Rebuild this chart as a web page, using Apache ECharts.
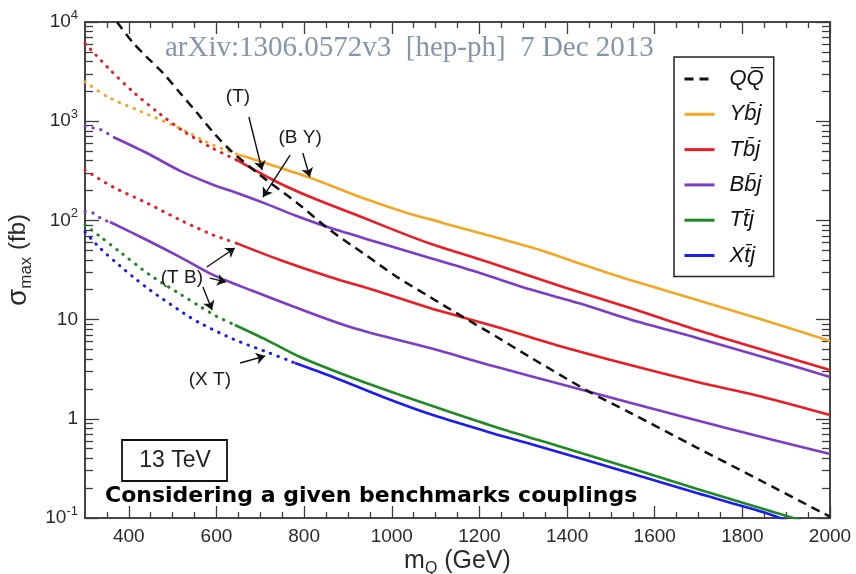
<!DOCTYPE html>
<html>
<head>
<meta charset="utf-8">
<script src="https://cdn.jsdelivr.net/npm/echarts@6/dist/echarts.min.js"></script>
<style>
  html, body { margin: 0; padding: 0; background: #fff; }
  #chart { width: 856px; height: 574px; }
</style>
</head>
<body>
<div id="chart"></div>
<script>
// Heavy-quark single production vs. pair production at 13 TeV.
// Mass in GeV, maximal cross section in fb. Points below each *SolidFrom
// mass are the extrapolated (dotted) part of the curve.

const qqMass  = [373, 410, 441, 478, 517, 556, 592, 631, 699, 784, 859, 934, 1012, 1087, 1163, 1240, 1315, 1452, 1544, 1697, 1847, 2000];
const qqSigma = [10000, 6140, 4437, 3060, 1925, 1210, 778, 513, 287, 150, 80, 46.9, 26.9, 16.9, 10.6, 6.68, 4.20, 1.86, 1.15, 0.51, 0.232, 0.103];

const ybjMass  = [300, 352, 425, 510, 592, 650, 665, 809, 934, 1042, 1087, 1133, 1201, 1338, 1446, 1544, 1697, 1848, 2000];
const ybjSigma = [2500, 1754, 1267, 874, 575, 460, 440, 274, 168, 116, 103, 90, 74.6, 50.3, 34.7, 25.1, 15.8, 9.9, 6.09];
const ybjSolidFrom = 650;

const tbjMass  = [300, 356, 412, 471, 528, 590, 646, 738, 820, 934, 1035, 1087, 1240, 1391, 1544, 1697, 1847, 2000];
const tbjSigma = [6100, 3335, 1937, 1183, 776, 537, 407, 244, 168, 107, 71, 58.5, 35.5, 21.3, 13.1, 7.85, 4.94, 3.10];
const tbjSolidFrom = 646;

const tbj2Mass  = [300, 364, 441, 517, 592, 624, 645, 745, 859, 973, 1087, 1240, 1391, 1544, 1697, 1847, 2000];
const tbj2Sigma = [322, 217, 150, 101, 71.3, 63.5, 59, 39.9, 26.9, 19.0, 13.1, 8.42, 5.29, 3.48, 2.35, 1.66, 1.09];
const tbj2SolidFrom = 645;

const bbjMass  = [300, 320, 338, 364, 441, 517, 592, 631, 706, 780, 859, 973, 1087, 1201, 1315, 1430, 1544, 1697, 1847, 2000];
const bbjSigma = [895, 853, 815, 693, 478, 316, 229, 200, 151, 112, 84.1, 59.2, 41.8, 29.5, 20.2, 14.5, 10.0, 6.53, 4.20, 2.64];
const bbjSolidFrom = 364;

const bbj2Mass  = [300, 318, 339, 357, 441, 517, 592, 677, 905, 1087, 1240, 1391, 1544, 1772, 2000];
const bbj2Sigma = [124, 119, 103, 96.4, 63.5, 42.7, 28.2, 19.9, 8.42, 5.18, 3.32, 2.2, 1.45, 0.789, 0.442];
const bbj2SolidFrom = 357;

const ttjMass  = [300, 334, 380, 448, 517, 562, 600, 642, 715, 791, 905, 1019, 1133, 1247, 1391, 1544, 1697, 1848, 1916, 1950];
const ttjSigma = [90, 69, 48, 28.2, 18.1, 13.6, 10.8, 8.83, 6.22, 4.20, 2.64, 1.74, 1.17, 0.80, 0.514, 0.319, 0.196, 0.123, 0.1, 0.088];
const ttjSolidFrom = 642;

const xtjMass  = [300, 334, 380, 410, 448, 524, 562, 638, 715, 768, 779, 866, 980, 1094, 1247, 1315, 1543, 1696, 1847, 1886, 1920];
const xtjSigma = [76.4, 52.7, 34.7, 26.9, 19.9, 11.7, 9.25, 6.37, 4.71, 3.83, 3.65, 2.64, 1.66, 1.09, 0.68, 0.56, 0.284, 0.179, 0.115, 0.1, 0.088];
const xtjSolidFrom = 779;

// Legend labels
const nameQQ  = 'Q' + 'Q\u0305';
const nameYbj = 'Yb\u0304j';
const nameTbj = 'Tb\u0304j';
const nameBbj = 'Bb\u0304j';
const nameTtj = 'Tt\u0304j';
const nameXtj = 'Xt\u0304j';

// Axis ticks
const xTickLabels = [400, 600, 800, 1000, 1200, 1400, 1600, 1800, 2000];
const xMinorTicks = [];
for (let m = 350; m < 2000; m += 50) if (m % 200 !== 0) xMinorTicks.push(m);
const yMinorTicks = [];
[0.1, 1, 10, 100, 1000].forEach(d => { for (let k = 2; k <= 9; k++) yMinorTicks.push(+(k * d).toPrecision(3)); });

// Annotation arrows (tail -> head) and their captions, in data units
const arrowTail = [[674, 1102], [768, 456], [797, 478], [578, 33.9], [585, 26.2], [569, 21.3], [654, 3.65]];
const arrowHead = [[704, 322], [706, 172], [813, 274], [642, 52.7], [622, 23.9], [590, 12.5], [711, 4.30]];
const noteText  = ['(T)', '(B Y)', '(T B)', '(X T)'];
const notePos   = [[649, 1754], [791, 677], [521, 26.2], [585, 2.46]];

const COLORS = { qq: '#111111', ybj: '#f5a623', tbj: '#ec1c24', bbj: '#7d3cc8', ttj: '#1f8a24', xtj: '#1c1cf0' };
const AXIS = '#3c3c3c';
const SANS = '"Liberation Sans", Arial, sans-serif';

function pairs(mass, sigma, keep) {
  const out = [];
  mass.forEach((m, i) => { if (keep(m)) out.push([m, sigma[i]]); });
  return out;
}
function solid(name, color, mass, sigma, from) {
  return {
    type: 'line', name, symbol: 'none', smooth: 0.3, z: 3,
    data: pairs(mass, sigma, m => m >= from),
    lineStyle: { color, width: 2.6 }, itemStyle: { color }
  };
}
function dotted(name, color, mass, sigma, from) {
  return {
    type: 'line', name, symbol: 'none', smooth: 0.3, z: 2,
    data: pairs(mass, sigma, m => m <= from),
    lineStyle: { color, width: 3, type: [0.5, 7.5], cap: 'round' }, itemStyle: { color }
  };
}

const series = [
  {
    type: 'line', name: nameQQ, symbol: 'none', smooth: 0.3, z: 4,
    data: pairs(qqMass, qqSigma, () => true),
    lineStyle: { color: COLORS.qq, width: 2.5, type: [9, 6] }, itemStyle: { color: COLORS.qq },
    markLine: {
      silent: true, symbol: ['none', 'arrow'], symbolSize: 9, animation: false,
      lineStyle: { color: '#111', width: 1.4, type: 'solid' },
      label: { show: false },
      data: arrowTail.map((t, i) => [{ coord: t }, { coord: arrowHead[i] }])
    },
    markPoint: {
      silent: true, symbol: 'circle', symbolSize: 0, animation: false,
      label: { show: true, position: 'inside', color: '#1a1a1a', fontSize: 19, fontFamily: SANS, formatter: p => p.name },
      data: notePos.map((c, i) => ({ name: noteText[i], coord: c }))
    }
  },
  solid(nameYbj, COLORS.ybj, ybjMass, ybjSigma, ybjSolidFrom),
  solid(nameTbj, COLORS.tbj, tbjMass, tbjSigma, tbjSolidFrom),
  solid(nameTbj, COLORS.tbj, tbj2Mass, tbj2Sigma, tbj2SolidFrom),
  solid(nameBbj, COLORS.bbj, bbjMass, bbjSigma, bbjSolidFrom),
  solid(nameBbj, COLORS.bbj, bbj2Mass, bbj2Sigma, bbj2SolidFrom),
  solid(nameTtj, COLORS.ttj, ttjMass, ttjSigma, ttjSolidFrom),
  solid(nameXtj, COLORS.xtj, xtjMass, xtjSigma, xtjSolidFrom),
  dotted(nameYbj, COLORS.ybj, ybjMass, ybjSigma, ybjSolidFrom),
  dotted(nameTbj, COLORS.tbj, tbjMass, tbjSigma, tbjSolidFrom),
  dotted(nameTbj, COLORS.tbj, tbj2Mass, tbj2Sigma, tbj2SolidFrom),
  dotted(nameBbj, COLORS.bbj, bbjMass, bbjSigma, bbjSolidFrom),
  dotted(nameBbj, COLORS.bbj, bbj2Mass, bbj2Sigma, bbj2SolidFrom),
  dotted(nameTtj, COLORS.ttj, ttjMass, ttjSigma, ttjSolidFrom),
  dotted(nameXtj, COLORS.xtj, xtjMass, xtjSigma, xtjSolidFrom)
];

function xAxisDef(position, ticks, len, withLabels) {
  return {
    type: 'value', min: 300, max: 2000, position,
    axisLine: { show: withLabels !== null, onZero: false, lineStyle: { color: AXIS, width: 1.6 } },
    axisTick: { show: true, inside: true, length: len, customValues: ticks, lineStyle: { color: AXIS, width: 1.3 } },
    axisLabel: withLabels
      ? { show: true, customValues: ticks, color: '#2a2a2a', fontSize: 19, fontFamily: SANS, margin: 9, formatter: v => String(v) }
      : { show: false },
    splitLine: { show: false }
  };
}
function yAxisDef(position, ticks, len, withLabels) {
  const ax = {
    type: 'log', logBase: 10, min: 0.1, max: 10000, position,
    axisLine: { show: withLabels !== null, onZero: false, lineStyle: { color: AXIS, width: 1.6 } },
    axisTick: { show: true, inside: true, length: len, lineStyle: { color: AXIS, width: 1.3 } },
    axisLabel: { show: false },
    splitLine: { show: false },
    minorTick: { show: false }
  };
  if (ticks) ax.axisTick.customValues = ticks;
  if (withLabels) {
    ax.axisLabel = {
      show: true, color: '#2a2a2a', fontSize: 19, fontFamily: SANS, margin: 7,
      formatter: v => {
        const e = Math.round(Math.log10(v));
        if (e === 0) return '1';
        if (e === 1) return '10';
        return '10{sup|' + e + '}';
      },
      rich: { sup: { fontSize: 13, fontFamily: SANS, color: '#2a2a2a', padding: [0, 0, 13, 0] } }
    };
  }
  return ax;
}

const xMain = xAxisDef('bottom', xTickLabels, 12, true);
xMain.name = '{m|m}{q|Q}{g| (GeV)}';
xMain.nameLocation = 'middle';
xMain.nameGap = 27;
xMain.nameMoveOverlap = false;
xMain.nameTextStyle = {
  color: '#2a2a2a', fontFamily: SANS,
  rich: {
    m: { fontSize: 25, fontFamily: SANS, color: '#2a2a2a' },
    q: { fontSize: 16, fontFamily: SANS, color: '#2a2a2a', padding: [16, 0, 0, 0] },
    g: { fontSize: 25, fontFamily: SANS, color: '#2a2a2a' }
  }
};

const yMain = yAxisDef('left', null, 14, true);
yMain.name = '{s|\u03c3}{sub|max}{f| (fb)}';
yMain.nameLocation = 'middle';
yMain.nameRotate = 90;
yMain.nameGap = 46;
yMain.nameTextStyle = {
  color: '#2a2a2a', fontFamily: SANS, padding: [0, 0, 0, 20],
  rich: {
    s: { fontSize: 28, fontFamily: SANS, color: '#2a2a2a' },
    sub: { fontSize: 17, fontFamily: SANS, color: '#2a2a2a', padding: [16, 0, 0, 0] },
    f: { fontSize: 24, fontFamily: SANS, color: '#2a2a2a' }
  }
};

const option = {
  animation: false,
  backgroundColor: '#ffffff',
  grid: { left: 85, right: 26, top: 22, bottom: 56, containLabel: false, outerBoundsMode: 'none' },
  xAxis: [
    xMain,
    xAxisDef('bottom', xMinorTicks, 6, false),
    xAxisDef('top', xTickLabels, 12, false),
    xAxisDef('top', xMinorTicks, 6, false)
  ],
  yAxis: [
    yMain,
    yAxisDef('left', yMinorTicks, 8, false),
    yAxisDef('right', null, 14, false),
    yAxisDef('right', yMinorTicks, 8, false)
  ],
  legend: {
    show: true, orient: 'vertical', left: 674, top: 57,
    padding: [11, 10, 10, 9], itemGap: 13.3, itemWidth: 30, itemHeight: 22,
    borderColor: '#222', borderWidth: 1.5, backgroundColor: '#fff', borderRadius: 0,
    selectedMode: false,
    itemStyle: { opacity: 0 },
    lineStyle: { width: 3 },
    textStyle: { fontSize: 22, fontStyle: 'italic', fontFamily: SANS, color: '#111', padding: [0, 0, 0, 10] },
    data: [nameQQ, nameYbj, nameTbj, nameBbj, nameTtj, nameXtj]
  },
  graphic: [
    {
      type: 'text', x: 165, y: 48, silent: true,
      style: { text: 'arXiv:1306.0572v3  [hep-ph]  7 Dec 2013', font: '29px "Liberation Serif", serif', fill: '#8596ab', textAlign: 'left', textVerticalAlign: 'middle' }
    },
    {
      type: 'rect', silent: true, z: 10,
      shape: { x: 122, y: 440, width: 105, height: 41 },
      style: { fill: '#fff', stroke: '#111', lineWidth: 1.8 }
    },
    {
      type: 'text', x: 175, y: 461, silent: true, z: 11,
      style: { text: '13 TeV', font: '23px "Liberation Sans", Arial, sans-serif', fill: '#222', textAlign: 'center', textVerticalAlign: 'middle' }
    },
    {
      type: 'text', x: 105, y: 496, silent: true, z: 11,
      style: { text: 'Considering a given benchmarks couplings', font: 'bold 22px "DejaVu Sans", sans-serif', fill: '#000', textAlign: 'left', textVerticalAlign: 'middle' }
    }
  ],
  series
};

// Extra axes carry no series; every series uses the main pair.
option.series.forEach(s => { s.xAxisIndex = 0; s.yAxisIndex = 0; });

const chart = echarts.init(document.getElementById('chart'), null, { renderer: 'canvas' });
chart.setOption(option);
</script>
</body>
</html>
